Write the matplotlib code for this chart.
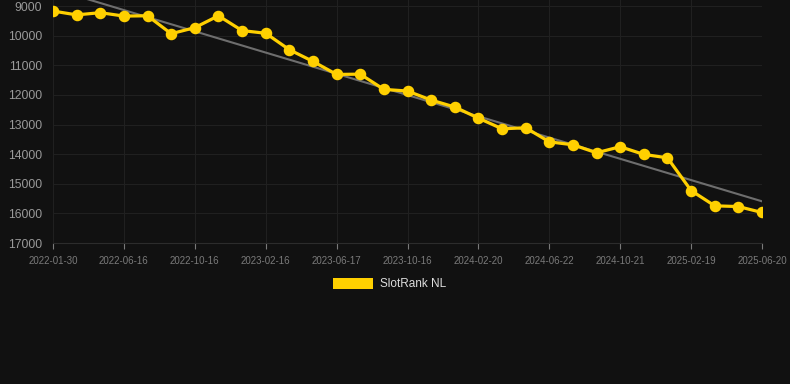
import numpy as np
import matplotlib
matplotlib.use('Agg')
import matplotlib.pyplot as plt
from matplotlib.patches import Rectangle

plt.rcParams['font.family'] = ['Liberation Sans', 'DejaVu Sans']

# rank values, one point per period (lower rank number = better, axis inverted)
ranks = [9170, 9300, 9225, 9340, 9330, 9935, 9730, 9330, 9830, 9920,
         10475, 10870, 11310, 11300, 11815, 11870, 12175, 12410, 12785, 13145,
         13110, 13585, 13685, 13955, 13750, 14010, 14125, 15230, 15745, 15770,
         15970]
tick_labels = ['2022-01-30', '2022-06-16', '2022-10-16', '2023-02-16', '2023-06-17',
               '2023-10-16', '2024-02-20', '2024-06-22', '2024-10-21', '2025-02-19',
               '2025-06-20']
y_ticks = [9000, 10000, 11000, 12000, 13000, 14000, 15000, 16000, 17000]
series_name = 'SlotRank NL'

bg = '#111111'
yellow = '#FFD000'

x = np.arange(len(ranks))
fig = plt.figure(figsize=(7.9, 3.84), dpi=100, facecolor=bg)
ax = fig.add_axes([53/790, 1-243/384, (762-53)/790, 243/384])
ax.set_facecolor(bg)

# trend line (least squares)
k, b = np.polyfit(x, ranks, 1)
ax.plot(x, k*x + b, color='#6e6e6e', lw=1.5, zorder=2)

ax.plot(x, ranks, color=yellow, lw=2.3, marker='o', ms=7.3, mec=yellow, mfc=yellow, zorder=3)

ax.set_xlim(0, len(ranks)-1)
ax.set_ylim(17000, 9000 - 6/29.6*1000)
ax.set_yticks(y_ticks)
ax.set_yticklabels([str(v) for v in y_ticks])
ax.set_xticks(x[::3])
ax.set_xticklabels(tick_labels)

ax.grid(True, color='#202020', lw=0.8)
for s in ['top', 'right', 'left']:
    ax.spines[s].set_visible(False)
ax.spines['bottom'].set_color('#2c2c2c')
ax.tick_params(axis='y', colors='#999999', labelsize=8.7, length=0, pad=8)
ax.tick_params(axis='x', colors='#7a7a7a', labelsize=7, length=4, width=0.8, pad=5)
for t in ax.get_xticklines():
    t.set_color('#1e1e1e')

# legend box
fig.patches.append(Rectangle((333/790, 1-289/384), 40/790, 11/384, transform=fig.transFigure,
                             facecolor=yellow, edgecolor='none'))
fig.text(380/790, 1-284/384, series_name, color='#dddddd', fontsize=8.5, va='center', ha='left')

fig.savefig('out.png', dpi=100, facecolor=bg)
